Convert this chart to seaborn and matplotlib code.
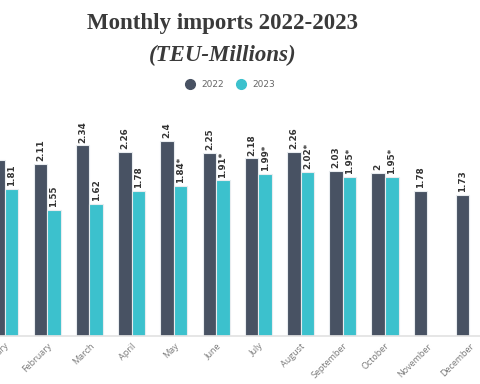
import numpy as np
import pandas as pd
import matplotlib
matplotlib.use("Agg")
import matplotlib.pyplot as plt
from matplotlib.lines import Line2D
import seaborn as sns

months = ['January', 'February', 'March', 'April', 'May', 'June', 'July',
          'August', 'September', 'October', 'November', 'December']
imports_2022 = [2.16, 2.11, 2.34, 2.26, 2.4, 2.25, 2.18, 2.26, 2.03, 2.0, 1.78, 1.73]
imports_2023 = [1.81, 1.55, 1.62, 1.78, 1.84, 1.91, 1.99, 2.02, 1.95, 1.95, np.nan, np.nan]
labels_2022 = ['2.16', '2.11', '2.34', '2.26', '2.4', '2.25', '2.18', '2.26', '2.03', '2', '1.78', '1.73']
labels_2023 = ['1.81', '1.55', '1.62', '1.78', '1.84*', '1.91*', '1.99*', '2.02*', '1.95*', '1.95*']
years = ['2022', '2023']
colors = ['#485263', '#3cc1cd']


def build_df() -> pd.DataFrame:
    rows = []
    for m, a, b in zip(months, imports_2022, imports_2023):
        rows.append([m, '2022', a])
        rows.append([m, '2023', b])
    return pd.DataFrame(rows, columns=['month', 'year', 'teu']).dropna()


df = build_df()

sns.set_theme(style="white")
fig = plt.figure(figsize=(4.8, 3.84), dpi=100)
ax = fig.add_axes([0, 0.125, 1, 0.615])

sns.barplot(data=df, x='month', y='teu', hue='year', order=months, hue_order=years,
            palette=colors, saturation=1, width=0.64, edgecolor='#e8ecef',
            linewidth=0.8, legend=False, ax=ax)

for cont, labs in zip(ax.containers, [labels_2022, labels_2023]):
    ax.bar_label(cont, labels=labs, rotation=90, padding=2, fontsize=6.3,
                 fontweight='bold', color='#333333', family='DejaVu Sans')

ax.set_xlim(-0.118, 11.25)
ax.set_ylim(0, 2.9)
ax.set_xlabel('')
ax.set_ylabel('')
ax.set_yticks([])
for side in ['left', 'right', 'top']:
    ax.spines[side].set_visible(False)
ax.spines['bottom'].set_color('#e3e3e3')
ax.tick_params(axis='x', length=0, pad=4)
plt.setp(ax.get_xticklabels(), rotation=45, ha='right', rotation_mode='anchor',
         fontsize=6.5, color='#7a7a7a', family='Open Sans')

fig.text(0.463, 0.94, 'Monthly imports 2022-2023', ha='center', va='center',
         fontsize=16.5, fontweight='bold', family='Liberation Serif', color='#3a3a3a')
fig.text(0.463, 0.855, '(TEU-Millions)', ha='center', va='center',
         fontsize=16.5, fontweight='bold', style='italic', family='Liberation Serif',
         color='#3a3a3a')

handles = [Line2D([], [], marker='o', linestyle='', markersize=7, color=c) for c in colors]
fig.legend(handles, years, loc='center', bbox_to_anchor=(0.475, 0.779), ncol=2,
           frameon=False, fontsize=6.5, handletextpad=0.3, columnspacing=0.8,
           labelcolor='#666666')

fig.savefig('out.png', dpi=100)
